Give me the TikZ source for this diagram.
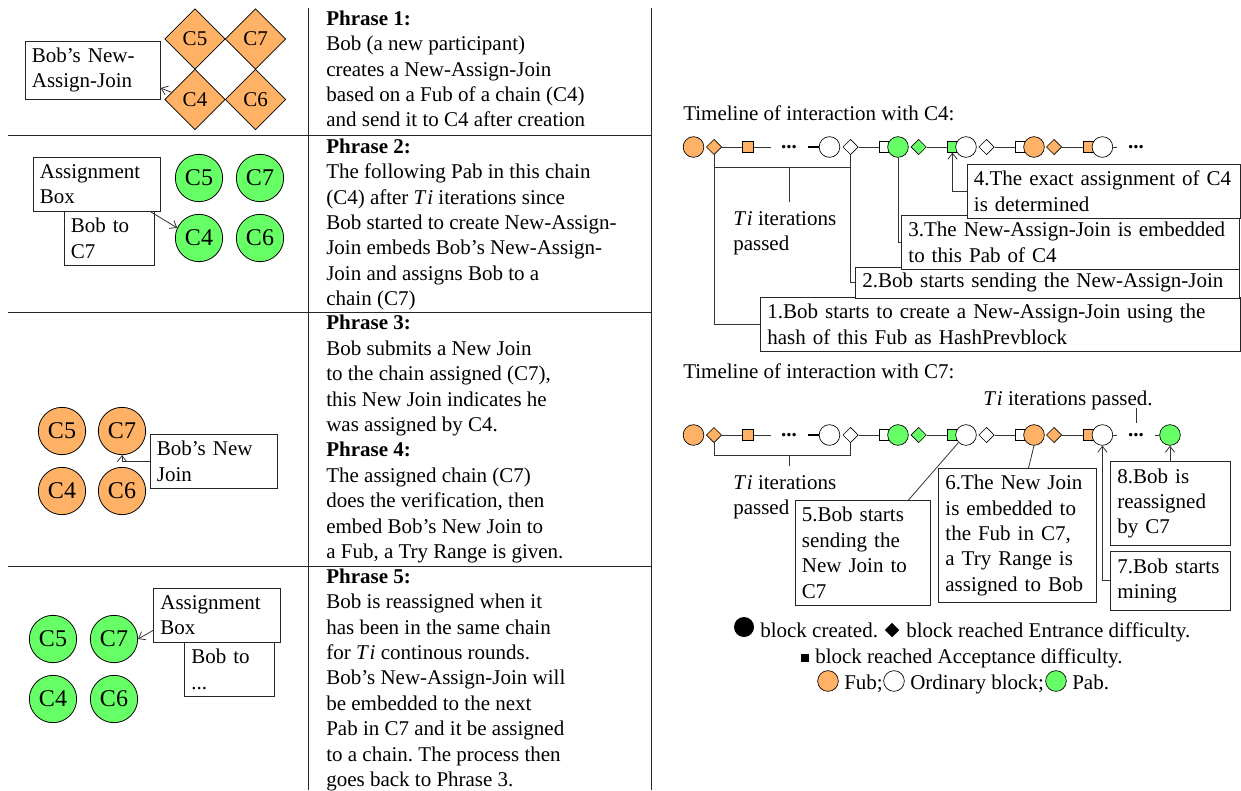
\documentclass[tikz,border=0pt]{standalone}
\usepackage{fontspec}
\setmainfont{Liberation Serif}
\usetikzlibrary{shapes.geometric,calc,arrows.meta}
\definecolor{fub}{RGB}{255,178,102}
\definecolor{pab}{RGB}{102,255,102}
\newcommand{\tfont}{\fontsize{15.75}{19.05}\selectfont\frenchspacing}
\newcommand{\cfont}{\fontsize{18}{20}\selectfont}
\newcommand{\Ti}{\textit{T\kern1.5pt i}}
\tikzset{
  >={Straight Barb[length=4.5pt,width=7pt,line width=0.6pt]},
  txt/.style={inner sep=0pt,anchor=north west,align=left,font=\tfont},
  rule/.style={line width=0.6pt,draw=black!85},
  link/.style={line width=0.6pt,draw=black!80},
  tip/.style={link,->},
  labelbox/.style={draw=black!85,line width=0.6pt,fill=white,anchor=north west,align=left,font=\tfont,inner xsep=5.25pt,inner ysep=0pt},
  cdia/.style={diamond,draw,fill=fub,line width=0.6pt,minimum width=45.5pt,minimum height=45.5pt,inner sep=0pt,font=\tfont},
  ccirc/.style={circle,draw,fill=#1,line width=0.6pt,minimum size=35.5pt,inner sep=0pt,font=\cfont},
  blk/.style={circle,draw,fill=#1,line width=0.5pt,minimum size=15.5pt,inner sep=0pt},
  ent/.style={diamond,draw,fill=#1,line width=0.5pt,minimum size=11.5pt,inner sep=0pt},
  acc/.style={rectangle,draw,fill=#1,line width=0.5pt,minimum size=8pt,inner sep=0pt},
  dots/.style={inner sep=0pt,font=\tfont\bfseries},
}
\newcommand{\chain}[2]{%
  \node[acc=fub] (#1s1) at (748,#2) {};
  \node[acc=white] (#1s2) at (885,#2) {};
  \node[acc=pab] (#1s3) at (952.5,#2) {};
  \node[acc=white] (#1s4) at (1021,#2) {};
  \node[acc=fub] (#1s5) at (1089,#2) {};
  \node[blk=fub] (#1b1) at (693.5,#2) {};
  \node[ent=fub] (#1d1) at (714,#2) {};
  \node[blk=white] (#1b2) at (829.5,#2) {};
  \node[ent=white] (#1d2) at (850.5,#2) {};
  \node[blk=pab] (#1b3) at (898,#2) {};
  \node[ent=pab] (#1d3) at (918.7,#2) {};
  \node[blk=white] (#1b4) at (966,#2) {};
  \node[ent=white] (#1d4) at (986.5,#2) {};
  \node[blk=fub] (#1b5) at (1034,#2) {};
  \node[ent=fub] (#1d5) at (1054,#2) {};
  \node[blk=white] (#1b6) at (1102.4,#2) {};
  \node[dots] (#1dots) at (1136,#2) {...};
  \coordinate (#1e1) at (771,#2);
  \coordinate (#1e2) at (808,#2);
  \coordinate (#1e3) at (1117,#2);
  \node[dots] (#1dotsa) at (789,#2) {...};
  \draw[link] (#1d1) -- (#1s1) (#1s1) -- (#1e1);
  \draw[line width=1pt] (#1e2) -- (#1b2);
  \draw[link] (#1d2) -- (#1s2) (#1d3) -- (#1s3) (#1d4) -- (#1s4) (#1d5) -- (#1s5) (#1b6) -- (#1e3);
}
\begin{document}
\begin{tikzpicture}[x=0.75pt,y=-0.75pt]
\useasboundingbox (0,0) rectangle (1241,790);
% dividers
\coordinate (v1t) at (308,8); \coordinate (v1b) at (308,790);
\coordinate (v2t) at (651,8); \coordinate (v2b) at (651,790);
\coordinate (h1l) at (8,135); \coordinate (h1r) at (651,135);
\coordinate (h2l) at (8,312); \coordinate (h2r) at (651,312);
\coordinate (h3l) at (8,566); \coordinate (h3r) at (651,566);
\draw[rule] (v1t) -- (v1b) (v2t) -- (v2b) (h1l) -- (h1r) (h2l) -- (h2r) (h3l) -- (h3r);
% phrase texts
\node[txt] (p1) at (326,10.5) {\textbf{Phrase 1:}\\Bob (a new participant)\\creates a New-Assign-Join\\based on a Fub of a chain (C4)\\and send it to C4 after creation};
\node[txt] (p2) at (326,138.5) {\textbf{Phrase 2:}\\The following Pab in this chain\\(C4) after \Ti{} iterations since\\Bob started to create New-Assign-\\Join embeds Bob's New-Assign-\\Join and assigns Bob to a\\chain (C7)};
\node[txt] (p3) at (326,315) {\textbf{Phrase 3:}\\Bob submits a New Join\\to the chain assigned (C7),\\this New Join indicates he\\was assigned by C4.\\\textbf{Phrase 4:}\\The assigned chain (C7)\\does the verification, then\\embed Bob's New Join to\\a Fub, a Try Range is given.};
\node[txt] (p5) at (326,568.5) {\textbf{Phrase 5:}\\Bob is reassigned when it\\has been in the same chain\\for \Ti{} continous rounds.\\Bob's New-Assign-Join will\\be embedded to the next\\Pab in C7 and it be assigned\\to a chain. The process then\\goes back to Phrase 3.};
% panel 1
\node[cdia] (a5) at (195,39) {C5};
\node[cdia] (a7) at (255.5,39) {C7};
\node[cdia] (a4) at (195,99.5) {C4};
\node[cdia] (a6) at (255.5,99.5) {C6};
\node[labelbox,text width=91pt,minimum height=44pt] (abox) at (24.5,40.5) {Bob's New-\\Assign-Join};
\draw[tip] (a4.163) -- (abox.south east|-0,88);
% panel 2
\node[ccirc=pab] (b5) at (199,178) {C5};
\node[ccirc=pab] (b7) at (260,178) {C7};
\node[ccirc=pab] (b4) at (199,238) {C4};
\node[ccirc=pab] (b6) at (260,238) {C6};
\node[labelbox,text width=57pt,minimum height=40.5pt] (bbob) at (63.5,211) {Bob to\\C7};
\node[labelbox,text width=85pt,minimum height=40.5pt] (bbox) at (32.5,157) {Assignment\\Box};
\draw[tip] ($(bbox.south east)+(-10,0)$) -- (b4.155);
% panel 3
\node[ccirc=fub] (c5) at (62,431) {C5};
\node[ccirc=fub] (c7) at (122,431) {C7};
\node[ccirc=fub] (c4) at (62,491) {C4};
\node[ccirc=fub] (c6) at (122,491) {C6};
\node[labelbox,text width=85pt,minimum height=40.5pt] (cbox) at (149.5,434) {Bob's New\\Join};
\draw[tip] (cbox.west) -- (c7.south|-cbox.west) -- (c7.south);
% panel 4
\node[ccirc=pab] (d5) at (53,639) {C5};
\node[ccirc=pab] (d7) at (114,639) {C7};
\node[ccirc=pab] (d4) at (53,699) {C4};
\node[ccirc=pab] (d6) at (114,699) {C6};
\node[labelbox,text width=57pt,minimum height=40.5pt] (dbob) at (184,642) {Bob to\\...};
\node[labelbox,text width=85pt,minimum height=40.5pt] (dbox) at (153,588) {Assignment\\Box};
\draw[tip] ($(dbox.west)+(0,15)$) -- (d7.east);
% timeline C4
\node[txt] (t4) at (683,105) {Timeline of interaction with C4:};
\chain{u}{147}
\coordinate (ub1) at (714,167); \coordinate (ub2) at (850.5,167);
\coordinate (ust) at (789,202); \coordinate (usm) at (789,167);
\draw[link] (ub1) -- (ub2) (usm) -- (ust);
\node[txt] (uti) at (733,211) {\Ti{} iterations\\passed};
\node[labelbox,text width=349.3pt,minimum height=40.5pt] (u1) at (760,297) {1.Bob starts to create a New-Assign-Join using the\\hash of this Fub as HashPrevblock};
\node[labelbox,text width=277.5pt,minimum height=23pt] (u2) at (855,267) {2.Bob starts sending the New-Assign-Join};
\node[labelbox,text width=243.3pt,minimum height=40.5pt] (u3) at (901,215) {3.The New-Assign-Join is embedded\\to this Pab of C4};
\node[labelbox,text width=194.5pt,minimum height=40.5pt] (u4) at (966.5,164) {4.The exact assignment of C4\\is determined};
\draw[link] (ud1.south) -- (ud1.south|-u1.west) -- (u1.west);
\draw[link] (ud2.south) -- (ud2.south|-u2.west) -- (u2.west);
\draw[link] (ub3.south) -- (ub3.south|-u3.west) -- (u3.west);
\draw[tip] (u4.west) -- (us3.south|-u4.west) -- (us3.south);
% timeline C7
\node[txt] (t7) at (683,363) {Timeline of interaction with C7:};
\chain{w}{435}
\node[blk=pab] (wb7) at (1170,435) {};
\coordinate (we4) at (1154.5,435);
\draw[link] (we4) -- (wb7);
\coordinate (wc1) at (714,455.5); \coordinate (wc2) at (850.5,455.5);
\coordinate (wsm) at (789,455.5); \coordinate (wst) at (789,466);
\draw[link] (wd1.south) -- (wc1) -- (wc2) -- (wd2.south) (wsm) -- (wst);
\node[txt] (wti) at (733,475) {\Ti{} iterations\\passed};
\node[txt] (wtop) at (983,391) {\Ti{} iterations passed.};
\coordinate (wp1) at (1136,408); \coordinate (wp2) at (1136,423);
\draw[link] (wp1) -- (wp2);
\node[labelbox,text width=90.75pt,minimum height=78.5pt] (w5) at (794.5,500) {5.Bob starts\\sending the\\New Join to\\C7};
\node[labelbox,text width=108pt,minimum height=100.5pt] (w6) at (938,468) {6.The New Join\\is embedded to\\the Fub in C7,\\a Try Range is\\assigned to Bob};
\node[labelbox,text width=79.5pt,minimum height=63pt] (w8) at (1110,461) {8.Bob is\\reassigned\\by C7};
\node[labelbox,text width=79.5pt,minimum height=44pt] (w7) at (1110,551) {7.Bob starts\\mining};
\draw[link] (wb4.south west) -- ($(w5.north west)+(114,0)$);
\draw[link] (wb5.south) -- ($(w6.north west)+(90.5,0)$);
\draw[tip] (w7.west) -- (wb6.south|-w7.west) -- (wb6.south);
\draw[tip] (w8.north-|wb7.south) -- (wb7.south);
% legend
\node[circle,fill=black,minimum size=15pt,inner sep=0pt] (l1) at (744,627) {};
\node[txt,anchor=base west] (l1t) at (760,637) {block created.};
\node[diamond,fill=black,minimum size=11pt,inner sep=0pt] (l2) at (892,630) {};
\node[txt,anchor=base west] (l2t) at (906,637) {block reached Entrance difficulty.};
\node[rectangle,fill=black,minimum size=6pt,inner sep=0pt] (l3) at (805,658) {};
\node[txt,anchor=base west] (l3t) at (815,663) {block reached Acceptance difficulty.};
\node[blk=fub] (l4) at (828,681) {};
\node[txt,anchor=base west] (l4t) at (844,689) {Fub;};
\node[blk=white] (l5) at (894,681) {};
\node[txt,anchor=base west] (l5t) at (910,689) {Ordinary block;};
\node[blk=pab] (l6) at (1056,681) {};
\node[txt,anchor=base west] (l6t) at (1072,689) {Pab.};
\end{tikzpicture}
\end{document}
